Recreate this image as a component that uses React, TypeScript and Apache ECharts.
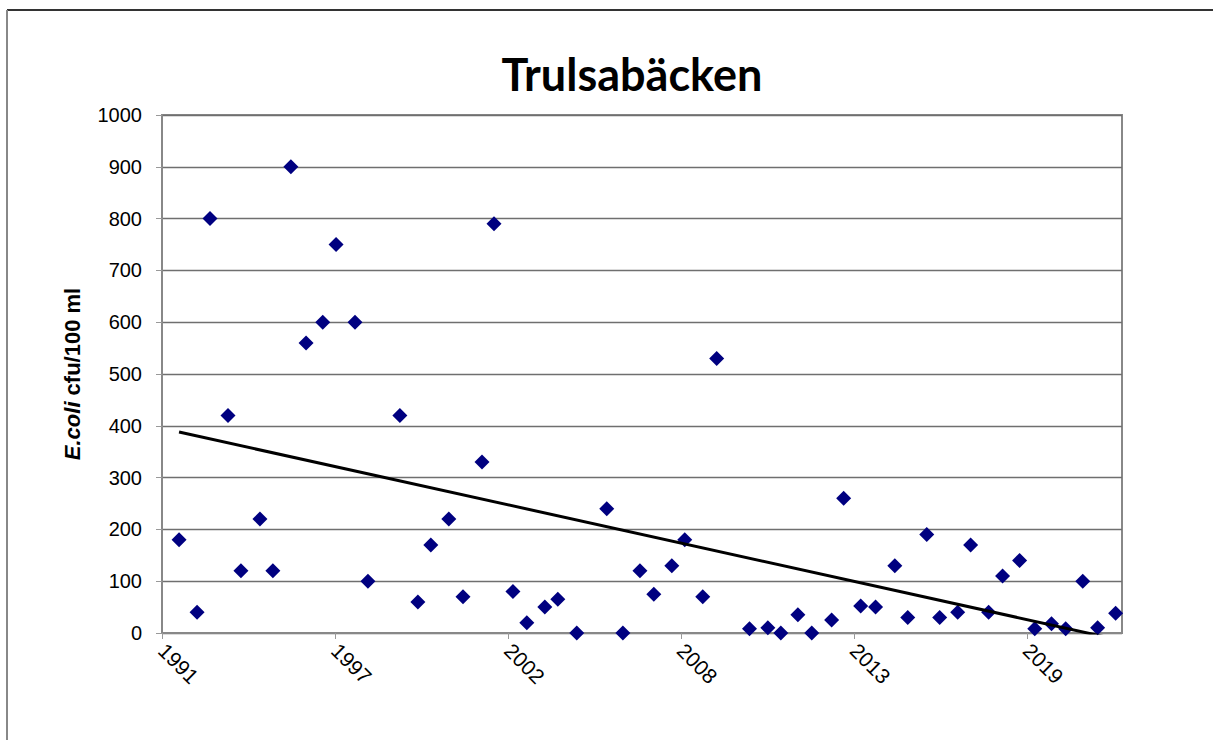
import React, { useEffect, useRef } from "react";
import * as echarts from "echarts";

// Sampling dates (decimal years) and E. coli values (cfu/100 ml)
const sampleYears = [
  1992.34, 1992.91, 1993.32, 1993.89, 1994.3, 1994.9, 1995.31, 1995.88, 1996.36, 1996.89,
  1997.31, 1997.91, 1998.32, 1999.33, 1999.9, 2000.31, 2000.88, 2001.33, 2001.93, 2002.31,
  2002.91, 2003.35, 2003.92, 2004.33, 2004.93, 2005.88, 2006.39, 2006.93, 2007.37, 2007.94,
  2008.35, 2008.92, 2009.36, 2010.4, 2010.98, 2011.39, 2011.93, 2012.37, 2013.0, 2013.38,
  2013.92, 2014.39, 2015.0, 2015.41, 2016.01, 2016.42, 2016.99, 2017.4, 2017.97, 2018.41,
  2018.95, 2019.43, 2019.96, 2020.41, 2020.95, 2021.42, 2021.99,
];
const ecoliValues = [
  180, 40, 800, 420, 120, 220, 120, 900, 560, 600,
  750, 600, 100, 420, 60, 170, 220, 70, 330, 790,
  80, 20, 50, 65, 0, 240, 0, 120, 75, 130,
  180, 70, 530, 8, 10, 0, 35, 0, 25, 260,
  52, 50, 130, 30, 190, 30, 40, 170, 40, 110,
  140, 8, 18, 8, 100, 10, 38,
];
// Linear trend line end points
const trendYears = [1992.34, 2021.99];
const trendValues = [388, -12];

// Axis settings
const xStart = 1991.8;
const xStep = 5.476; // 2000 days
const xTickCount = 6;
const xSpan = 5.55;

const titleText = "Trulsabäcken";
const FONT = "Liberation Sans";

export default function App() {
  const ref = useRef<HTMLDivElement>(null);
  useEffect(() => {
    if (!ref.current) return;
    const chart = echarts.init(ref.current, undefined, { renderer: "svg" });
    const tickVals: number[] = [];
    for (let i = 0; i < xTickCount; i++) tickVals.push(xStart + i * xStep);
    chart.setOption({
      animation: false,
      backgroundColor: "#ffffff",
      title: {
        text: titleText,
        left: 627,
        top: 46,
        textAlign: "center",
        textStyle: {
          fontFamily: "Lato",
          fontWeight: "bold",
          fontSize: 45,
          color: "#000000",
        },
      },
      graphic: [
        {
          type: "line",
          shape: { x1: 7, y1: 10, x2: 1213, y2: 10 },
          style: { stroke: "#333333", lineWidth: 2 },
        },
        {
          type: "line",
          shape: { x1: 7, y1: 10, x2: 7, y2: 740 },
          style: { stroke: "#888888", lineWidth: 2 },
        },
        {
          type: "rect",
          shape: { x: 162, y: 115, width: 960, height: 518 },
          style: { fill: "none", stroke: "#888888", lineWidth: 2 },
          z: -1,
        },
      ],
      grid: { left: 162, top: 115, right: 91, bottom: 107 },
      xAxis: {
        type: "value",
        min: xStart,
        max: xStart + xSpan * xStep,
        splitLine: { show: false },
        axisLine: { show: true, lineStyle: { color: "#888888", width: 2 } },
        axisTick: {
          show: true,
          customValues: tickVals,
          length: 6,
          lineStyle: { color: "#999999", width: 1 },
        },
        axisLabel: {
          customValues: tickVals,
          rotate: -45,
          fontFamily: FONT,
          fontSize: 21,
          color: "#000000",
          margin: 14,
          formatter: (v: number) => String(Math.floor(v + 1e-6)),
        },
      },
      yAxis: {
        type: "value",
        min: 0,
        max: 1000,
        interval: 100,
        name: "{i|E.coli} cfu/100 ml",
        nameLocation: "middle",
        nameGap: 79,
        nameRotate: 90,
        nameTextStyle: {
          fontFamily: FONT,
          fontWeight: "bold",
          fontSize: 22,
          color: "#000000",
          rich: {
            i: {
              fontFamily: FONT,
              fontWeight: "bold",
              fontStyle: "italic",
              fontSize: 22,
              color: "#000000",
            },
          },
        },
        axisLine: { show: true, lineStyle: { color: "#888888", width: 2 } },
        axisTick: { show: true, length: 6, lineStyle: { color: "#999999", width: 1 } },
        splitLine: { show: true, lineStyle: { color: "#6f6f6f", width: 1.3 } },
        axisLabel: {
          fontFamily: FONT,
          fontSize: 20,
          color: "#000000",
          margin: 20,
          formatter: (v: number) => String(v),
        },
      },
      series: [
        {
          type: "scatter",
          symbol: "diamond",
          symbolSize: 15,
          itemStyle: { color: "#000080", opacity: 1 },
          data: sampleYears.map((yr, i) => [yr, ecoliValues[i]]),
          z: 3,
        },
        {
          type: "line",
          data: trendYears.map((yr, i) => [yr, trendValues[i]]),
          symbol: "none",
          clip: true,
          lineStyle: { color: "#000000", width: 3 },
          z: 4,
        },
      ],
    });
    return () => chart.dispose();
  }, []);
  return (
    <div
      ref={ref}
      style={{ position: "fixed", left: 0, top: 0, width: 1213, height: 740 }}
    />
  );
}
